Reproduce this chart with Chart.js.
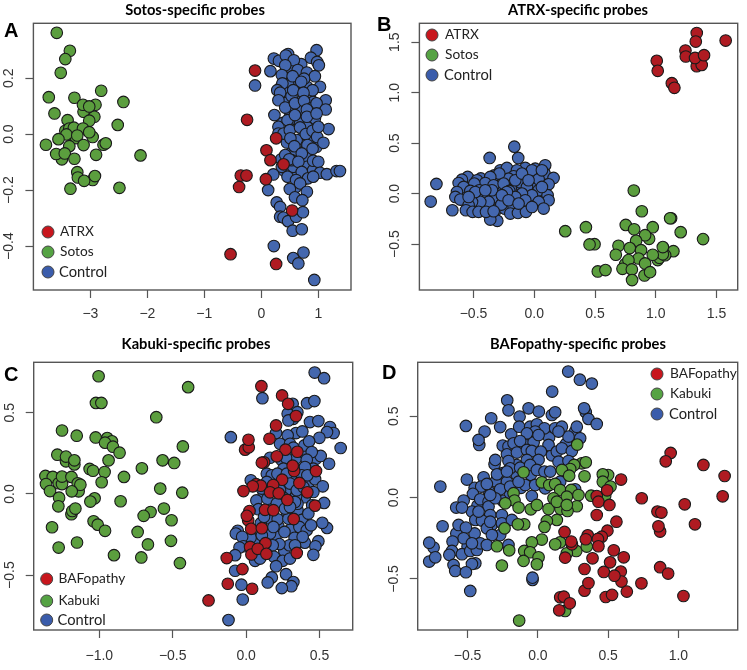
<!DOCTYPE html>
<html>
<head>
<meta charset="utf-8">
<title>Probe MDS plots</title>
<script src="https://cdn.jsdelivr.net/npm/chart.js@4"></script>
<style>
  html, body { margin: 0; padding: 0; background: #fff; }
  #page { position: relative; width: 747px; height: 670px; overflow: hidden; }
  canvas { position: absolute; }
  .letter { position: absolute; font: bold 20px "Liberation Sans", sans-serif; color: #000; line-height: 20px; }
  .title { position: absolute; font: bold 14.7px Lato, sans-serif; color: #000; line-height: 17px; transform: translateX(-50%); white-space: nowrap; }
</style>
</head>
<body>
<div id="page"></div>
<script>
// panel A: Sotos-specific probes, [x, y]
const aAtrx = [[-.11,.227],[-.25,.051],[.26,-.015],[.09,-.058],[.16,-.093],[.39,-.108],[-.36,-.148],[-.26,-.148],[-.39,-.189],[.08,-.161],[.54,-.273],[-.54,-.429],[.26,-.464]];
const aSotos = [[-3.59,.362],[-3.36,.298],[-3.44,.268],[-3.52,.219],[-3.73,.132],[-2.81,.155],[-3.28,.13],[-2.42,.115],[-3.63,.074],[-3.12,.08],[-3.13,.105],[-2.91,.105],[-2.93,.062],[-3.02,.099],[-3.02,.048],[-3.4,.05],[-2.52,.033],[-3.44,.012],[-3.37,.02],[-3.29,.023],[-3.13,.02],[-2.96,-.01],[-3.02,.007],[-3.25,-.014],[-3.42,-.001],[-3.23,-.005],[-3.56,-.018],[-3.78,-.038],[-3.37,-.043],[-3.12,-.039],[-2.77,-.038],[-2.73,-.033],[-3.5,-.09],[-3.6,-.071],[-3.45,-.069],[-3.28,-.088],[-2.9,-.074],[-2.12,-.076],[-3.23,-.136],[-3.22,-.155],[-2.96,-.164],[-2.92,-.15],[-3.11,-.167],[-3.35,-.195],[-2.49,-.192]];
const aControl = [[.35,.17],[.5,.2],[.62,.17],[.62,.09],[.4,.12],[.72,.12],[.85,.14],[.85,.04],[.72,.05],[.6,.03],[.5,.05],[.38,.04],[.55,-.06],[.68,-.03],[.8,-.05],[.68,-.1],[.8,-.08],[.62,-.12],[.55,-.14],[.75,-.16],[.9,-.02],[.95,.03],[.45,-.03],[.35,-.09],[.4,-.13],[.6,.25],[.7,.25],[.5,.24],[1,.09],[.6,-.19],[.47,.181],[.68,.217],[.44,.133],[.91,.115],[.68,.086],[.94,.056],[.3,.026],[.74,-.01],[.62,-.021],[.97,-.045],[.56,-.117],[.8,-.117],[.91,-.129],[.53,-.093],[.68,.038],[.8,.026],[.5,.08],[.8,.169],[.46,.27],[.39,.151],[.97,.3],[.22,.27],[.31,.262],[.47,.286],[.43,.281],[.57,.264],[.42,.246],[.87,.273],[.98,.258],[1.01,.246],[.16,.225],[.64,.229],[.36,.211],[.55,.207],[.8,.22],[.94,.207],[.75,.198],[.7,.187],[-.11,.174],[1.03,.169],[.37,.181],[.9,.157],[.28,.157],[.33,.148],[.53,.136],[.56,.157],[.74,.148],[.3,.121],[1.13,.121],[.42,.095],[.59,.11],[.75,.118],[.87,.092],[.97,.11],[1.13,.088],[.8,.088],[.23,.068],[.46,.05],[.59,.068],[.8,.062],[.97,.074],[.3,.002],[.39,.002],[.5,.014],[.68,.024],[.78,0],[.9,.012],[.98,-.01],[1.18,.018],[1,.026],[.51,-.015],[.58,-.043],[.81,-.039],[.9,-.052],[1.09,-.031],[.71,-.069],[.42,-.075],[.49,-.09],[.65,-.099],[.91,-.095],[1,-.099],[.36,-.117],[.21,-.144],[.46,-.152],[.71,-.135],[.61,-.164],[.82,-.158],[1.03,-.138],[1.15,-.143],[1.32,-.132],[1.38,-.132],[.68,-.176],[.91,-.152],[.12,-.2],[.5,-.196],[.8,-.206],[.59,-.226],[.72,-.236],[.27,-.244],[.33,-.26],[.33,-.295],[.39,-.298],[.47,-.311],[.61,-.295],[.73,-.279],[.55,-.345],[.71,-.34],[.22,-.4],[.74,-.423],[.56,-.443],[.65,-.462],[.93,-.521]];

// panel B: ATRX-specific probes
const bAtrx = [[1.337,1.591],[1.329,1.506],[1.575,1.516],[1.244,1.417],[1.247,1.358],[1.337,1.262],[1.378,1.275],[1.323,1.344],[1.397,1.371],[1.008,1.315],[1.016,1.216],[1.132,1.094],[1.153,1.048]];
const bSotos = [[.819,.03],[.885,-.175],[1.126,-.244],[1.118,-.244],[.255,-.372],[.425,-.333],[.496,-.501],[.455,-.504],[.753,-.31],[.822,-.353],[.975,-.333],[1.205,-.382],[1.389,-.451],[.945,-.448],[.912,-.412],[.838,-.468],[.693,-.517],[.786,-.54],[.879,-.56],[1.145,-.57],[1.016,-.659],[1.03,-.636],[1.077,-.61],[1.058,-.6],[1.058,-.53],[.975,-.606],[.671,-.606],[.858,-.643],[.748,-.699],[.775,-.659],[.912,-.692],[.726,-.745],[.803,-.751],[.907,-.811],[.953,-.778],[.805,-.857],[.523,-.771],[.586,-.758]];
const bControl = [[-.5,.05],[-.45,-.02],[-.42,.08],[-.38,-.04],[-.35,.13],[-.3,.03],[-.28,-.07],[-.25,.17],[-.22,-.1],[-.2,.08],[-.17,.05],[-.16,.2],[-.13,-.05],[-.1,.06],[-.08,.16],[-.05,-.03],[-.03,.1],[-.02,.18],[0,.06],[.03,-.04],[.05,.17],[.07,0],[-.6,-.02],[-.55,-.1],[-.48,-.13],[-.42,-.13],[-.36,-.13],[-.3,-.15],[-.24,-.15],[-.15,-.16],[-.08,-.14],[-.02,-.08],[.08,-.08],[-.58,.1],[-.52,.13],[-.44,.15],[-.33,.18],[-.25,.22],[-.12,.18],[-.05,.22],[-.164,.465],[-.132,.353],[-.367,.353],[-.805,.096],[-.852,-.079],[-.674,-.165],[-.304,-.27],[-.362,-.257],[-.279,.231],[-.225,.254],[-.074,.254],[.008,.247],[.09,.28],[.085,.198],[-.142,.231],[-.019,.231],[.159,.155],[.036,.142],[-.115,.112],[-.17,.171],[-.211,.148],[-.288,.198],[-.362,.165],[-.548,.165],[-.595,.138],[-.471,.132],[-.622,.105],[-.403,.105],[-.334,.082],[-.493,.099],[.118,.092],[-.06,.066],[-.252,.099],[-.581,.066],[-.526,.026],[-.452,.033],[-.205,.026],[.036,.033],[.11,-.016],[-.636,.016],[-.649,-.033],[-.608,-.059],[-.512,-.033],[-.315,-.033],[-.403,-.033],[-.019,-.016],[-.101,0],[-.156,-.033],[.118,-.066],[.036,-.082],[-.375,-.082],[-.444,-.082],[-.512,-.082],[-.54,-.115],[-.271,-.109],[-.17,-.125],[-.107,-.115],[.077,-.148],[-.562,-.165],[-.507,-.181],[-.458,-.181],[-.397,-.181],[-.334,-.175],[-.197,-.198],[-.134,-.191],[-.068,-.181],[-.225,.016],[-.348,.033],[-.485,.016],[-.074,-.066],[-.019,-.132],[-.266,-.016],[-.156,.132],[.063,.231],[-.101,.198],[-.403,.033],[-.211,-.066],[-.047,.132],[-.54,-.033],[-.129,-.099],[.063,.066]];

// panel C: Kabuki-specific probes
const cBafopathy = [[.104,.664],[.245,.607],[.286,.555],[.34,.48],[.204,.422],[.159,.34],[-.007,.273],[.018,.287],[.016,.334],[.268,.273],[.349,.26],[.209,.232],[.122,.195],[.107,.193],[.327,.141],[.317,.174],[.476,.141],[.245,.088],[.363,.068],[.068,.06],[.1,.051],[.045,.047],[.184,.055],[-.018,.018],[.163,.01],[.222,.004],[.417,.01],[.281,-.037],[.469,-.072],[.023,-.105],[.014,-.162],[.005,-.135],[.129,-.098],[.186,-.1],[.324,-.154],[.034,-.215],[.107,-.211],[.132,-.303],[.027,-.326],[.036,-.373],[.079,-.338],[.138,-.369],[.345,-.363],[-.132,-.395],[-.025,-.463],[-.125,-.553],[.041,-.584],[-.256,-.656]];
const cKabuki = [[-1.005,.725],[-1.023,.561],[-.986,.561],[-.612,.473],[-.395,.658],[-.431,.293],[-1.254,.391],[-1.154,.359],[-1.025,.348],[-.946,.344],[-.914,.324],[-.961,.316],[-.907,.291],[-.862,.254],[-1.286,.242],[-1.227,.201],[-1.227,.23],[-1.17,.182],[-1.17,.207],[-.937,.207],[-.569,.207],[-.49,.191],[-.71,.158],[-1.066,.154],[-1.043,.143],[-.964,.135],[-.832,.105],[-1.367,.111],[-1.317,.105],[-1.277,.066],[-1.254,.061],[-1.254,.107],[-1.19,.105],[-1.363,.061],[-1.141,.016],[-1.147,.066],[-1.129,.057],[-.984,.072],[-1.336,.018],[-1.188,.016],[-.585,.033],[-.435,.008],[-1.274,-.023],[-1.032,-.027],[-1.061,-.047],[-.855,-.045],[-1.279,-.076],[-1.19,-.125],[-1.184,-.105],[-1.163,-.09],[-.56,-.09],[-.651,-.111],[-.698,-.135],[-.508,-.162],[-1.039,-.168],[-1.011,-.189],[-.961,-.227],[-1.322,-.205],[-.739,-.234],[-.512,-.289],[-.669,-.311],[-1.152,-.299],[-1.277,-.33],[-.9,-.377],[-.714,-.391],[-.451,-.426]];
const cControl = [[.2,.02],[.27,.02],[.3,.17],[.24,.21],[.34,.22],[.4,.25],[.35,.15],[.42,.05],[.33,.1],[.25,.07],[.18,.08],[.47,.09],[.4,-.02],[.45,-.07],[.25,-.02],[.18,-.08],[.28,-.12],[.35,-.1],[.38,-.16],[.3,-.22],[.22,-.2],[.15,-.15],[.1,-.18],[.06,-.28],[.13,-.3],[.2,-.26],[.33,-.27],[.4,-.3],[.26,-.35],[.13,-.35],[.08,-.38],[.03,-.27],[.35,-.06],[.12,0],[.07,-.04],[.467,.748],[.531,.713],[.111,.59],[.415,.559],[.465,.572],[.317,.555],[.349,.504],[.283,.494],[.322,.463],[.288,.453],[.435,.443],[.492,.449],[.571,.412],[.596,.375],[.551,.381],[.499,.346],[.34,.375],[.383,.385],[.283,.361],[.204,.375],[-.104,.35],[.644,.283],[.231,.309],[.299,.309],[.397,.299],[.429,.324],[.322,.285],[.476,.217],[.508,.234],[.565,.186],[.447,.258],[.413,.211],[.272,.223],[.163,.223],[.458,.156],[.401,.166],[.254,.156],[.141,.125],[.175,.115],[.213,.125],[.277,.125],[.379,.115],[.417,.115],[.032,.084],[.107,.033],[.299,.064],[.522,.047],[.458,.012],[.145,-.029],[.34,-.014],[.231,.023],[.333,-.049],[.531,-.055],[.084,-.094],[.424,-.121],[.215,-.156],[.122,-.141],[.288,-.152],[.551,-.209],[.519,-.178],[.363,-.203],[.413,-.223],[.442,-.193],[-.057,-.227],[-.07,-.244],[-.027,-.264],[.163,-.244],[.261,-.234],[.385,-.264],[.492,-.291],[.472,-.322],[.458,-.375],[.295,-.316],[.227,-.309],[.181,-.316],[-.018,-.322],[-.045,-.33],[-.075,-.377],[.061,-.412],[.095,-.398],[.19,-.387],[.249,-.412],[.299,-.398],[.333,-.316],[.204,-.445],[-.075,-.473],[.272,-.494],[.175,-.514],[.147,-.545],[-.032,-.559],[.322,-.543],[.308,-.568],[.243,-.58],[-.023,-.65],[-.12,-.777],[.345,.023],[.39,.043],[.209,-.059],[.265,-.09],[.141,.074],[.299,-.08],[.186,-.203],[.107,-.254]];

// panel D: BAFopathy-specific probes
const dBafopathy = [[.945,.275],[.91,.223],[1.178,.201],[1.329,.133],[.592,.111],[.419,.01],[.493,.045],[.431,-.025],[.509,-.045],[.739,-.004],[1.315,.008],[1.045,-.041],[.851,-.086],[.879,-.092],[.419,-.107],[.559,-.148],[.87,-.209],[.858,-.176],[1.118,-.164],[.495,-.203],[.19,-.211],[.355,-.232],[.455,-.24],[.427,-.254],[.341,-.256],[.242,-.287],[.237,-.27],[.431,-.299],[.54,-.324],[.611,-.367],[.389,-.373],[.194,-.369],[.514,-.398],[.332,-.439],[.87,-.428],[.927,-.467],[.59,-.455],[.469,-.457],[.595,-.516],[.545,-.48],[.737,-.527],[.332,-.572],[.36,-.525],[.633,-.578],[.483,-.611],[.528,-.598],[1.036,-.605],[.159,-.613],[.185,-.609],[.227,-.65],[.152,-.693]];
const dKabuki = [[.28,.326],[.313,.211],[.341,.217],[.258,.201],[.23,.176],[.171,.17],[.223,.135],[.332,.131],[.5,.139],[.462,.143],[.462,.098],[.517,.068],[-.102,.156],[.028,.094],[-.173,.027],[-.166,-.018],[-.232,-.035],[-.137,-.061],[-.05,-.072],[-.007,-.045],[.081,.078],[.123,.084],[.159,.047],[.237,.047],[.111,-.004],[.206,.006],[.289,.016],[.379,.012],[.479,.012],[.277,-.053],[.161,-.07],[.076,-.07],[.211,-.082],[.135,-.137],[.064,-.143],[.047,-.18],[-.237,-.189],[-.097,-.164],[-.142,-.164],[.028,-.258],[-.043,-.275],[.159,-.275],[.123,-.287],[-.291,-.299],[-.204,-.324],[-.097,-.328],[-.055,-.336],[.005,-.367],[-.007,-.41],[-.102,-.389],[-.256,-.418],[.273,-.328],[.206,-.342],[.348,-.301],[.194,-.697],[-.133,-.756],[.135,-.025],[.206,-.045]];
const dControl = [[-.35,.04],[-.3,.1],[-.25,.15],[-.15,.14],[-.15,.2],[-.05,.14],[-.1,.33],[-.03,.34],[.08,.37],[.1,.26],[.2,.33],[-.25,-.02],[-.2,.03],[-.43,-.05],[-.45,.06],[-.33,-.17],[-.45,-.22],[-.5,-.3],[-.58,-.22],[-.25,.32],[-.12,.06],[.216,.775],[.299,.725],[.384,.701],[.102,.652],[-.218,.598],[.341,.525],[.329,.549],[.36,.484],[.419,.453],[-.209,.537],[-.13,.498],[-.066,.549],[.007,.529],[.1,.508],[.123,.525],[-.332,.488],[-.512,.441],[-.268,.434],[-.379,.406],[-.417,.324],[-.422,.355],[-.19,.389],[-.133,.436],[-.055,.436],[-.007,.451],[.047,.426],[.123,.426],[.171,.436],[.265,.406],[.277,.436],[.301,.365],[-.019,.406],[-.078,.395],[.005,.385],[.218,.375],[.147,.406],[-.209,.314],[-.173,.334],[-.126,.348],[.076,.324],[-.22,.266],[-.149,.277],[-.078,.293],[-.043,.287],[.021,.283],[.135,.283],[.171,.303],[.242,.287],[-.308,.205],[-.303,.232],[-.209,.225],[-.078,.232],[.005,.232],[.147,.221],[.218,.225],[-.197,.18],[-.126,.184],[-.055,.201],[-.007,.17],[.047,.16],[-.386,.125],[-.505,.111],[-.291,.143],[-.22,.098],[-.09,.078],[-.019,.078],[.159,.098],[-.694,.068],[-.403,.068],[-.363,.084],[-.268,.051],[-.197,.068],[-.043,.01],[.265,.051],[-.462,.023],[-.528,-.018],[-.41,-.01],[-.351,-.025],[-.469,-.086],[-.581,-.061],[-.54,-.061],[-.351,-.055],[-.339,-.107],[-.256,-.107],[-.445,-.137],[-.398,-.141],[-.564,-.168],[-.512,-.184],[-.678,-.176],[-.363,-.189],[-.256,-.158],[-.268,-.23],[-.327,-.23],[-.528,-.25],[-.742,-.307],[-.773,-.277],[-.607,-.27],[-.611,-.328],[-.63,-.352],[-.54,-.348],[-.481,-.328],[-.434,-.322],[-.41,-.281],[-.469,-.281],[-.363,-.291],[-.209,-.291],[-.773,-.393],[-.73,-.367],[-.6,-.414],[-.445,-.404],[-.469,-.408],[-.588,-.451],[-.512,-.459],[-.038,-.506],[-.038,-.492],[-.481,-.574],[-.339,-.148],[-.422,-.086],[-.185,-.137],[.147,-.035],[-.303,-.004],[-.339,.016],[-.137,.098],[.052,.057],[.088,.16],[-.22,.16]];

// tick values
const aTicksX = [-3, -2, -1, 0, 1];
const aTicksY = [-0.4, -0.2, 0, 0.2];
const bTicksX = [-0.5, 0, 0.5, 1, 1.5];
const bTicksY = [-0.5, 0, 0.5, 1, 1.5];
const cTicksX = [-1, -0.5, 0, 0.5];
const cTicksY = [-0.5, 0, 0.5];
const dTicksX = [-0.5, 0, 0.5, 1];
const dTicksY = [-0.5, 0, 0.5];

const RED = '#AF1B22', GREEN = '#5B9E3E', BLUE = '#4467AE';
const LEG_RED = '#C8161D', LEG_GREEN = '#55A343', LEG_BLUE = '#3A5CAB';

const panels = [
  { letter: 'A', lx: 4, ly: 20, left: 0, top: 0, areaL: 33.4, areaR: 351, areaT: 23.3, areaB: 290, title: 'Sotos-specific probes', titleX: 195, titleY: 0.5,
    xr: [-4.0, 1.574], yr: [-0.557, 0.396], tx: aTicksX, ty: aTicksY, xDec: 0, yDec: 1, labelPad: 8,
    names: ['ATRX', 'Sotos', 'Control'], sets: [aAtrx, aSotos, aControl], legX: 48, legT: 60, legY: [232, 252, 272] },
  { letter: 'B', lx: 377, ly: 14, left: 375, top: 0, areaL: 44.4, areaR: 362.7, areaT: 23.3, areaB: 290, title: 'ATRX-specific probes', titleX: 578, titleY: 0.5,
    xr: [-0.945, 1.674], yr: [-0.955, 1.687], tx: bTicksX, ty: bTicksY, xDec: 1, yDec: 1, labelPad: 8,
    names: ['ATRX', 'Sotos', 'Control'], sets: [bAtrx, bSotos, bControl], legX: 57, legT: 70, legY: [35, 55, 75] },
  { letter: 'C', lx: 4, ly: 364, left: 0, top: 335, areaL: 33.7, areaR: 352.7, areaT: 27.3, areaB: 295, title: 'Kabuki-specific probes', titleX: 196, titleY: 335,
    xr: [-1.447, 0.726], yr: [-0.838, 0.811], tx: cTicksX, ty: cTicksY, xDec: 1, yDec: 1, labelPad: 9.5,
    names: ['BAFopathy', 'Kabuki', 'Control'], sets: [cBafopathy, cKabuki, cControl], legX: 46.7, legT: 58.5, legY: [244, 266, 285] },
  { letter: 'D', lx: 382, ly: 362, left: 375, top: 335, areaL: 42.7, areaR: 362.7, areaT: 27.3, areaB: 295, title: 'BAFopathy-specific probes', titleX: 578, titleY: 335,
    xr: [-0.855, 1.422], yr: [-0.814, 0.832], tx: dTicksX, ty: dTicksY, xDec: 1, yDec: 1, labelPad: 9.5,
    names: ['BAFopathy', 'Kabuki', 'Control'], sets: [dBafopathy, dKabuki, dControl], legX: 282, legT: 295, legY: [39, 59, 79] }
];

// box round the plot plus the in-plot legend
const boxAndLegend = {
  id: 'boxAndLegend',
  afterDatasetsDraw(chart, args, opts) {
    const { ctx, chartArea: a } = chart;
    ctx.save();
    ctx.strokeStyle = '#555';
    ctx.lineWidth = 1.4;
    ctx.strokeRect(a.left, a.top, a.right - a.left, a.bottom - a.top);
    chart.data.datasets.forEach((ds, i) => {
      ctx.beginPath();
      ctx.arc(opts.x, opts.ys[i], 6, 0, Math.PI * 2);
      ctx.fillStyle = opts.colors[i];
      ctx.fill();
      ctx.strokeStyle = '#444';
      ctx.lineWidth = 1;
      ctx.stroke();
      ctx.fillStyle = '#222';
      // the Control label is visibly larger in the original
      const isControl = ds.label === 'Control';
      ctx.font = (isControl ? '14.7px' : '13.7px') + ' Lato';
      ctx.textBaseline = 'middle';
      ctx.textAlign = 'left';
      ctx.fillText(ds.label, isControl ? opts.textX - 1 : opts.textX, opts.ys[i]);
    });
    ctx.restore();
  }
};

function fmt(v, dec) {
  return (v < 0 ? '\u2212' : '') + Math.abs(v).toFixed(dec);
}

const page = document.getElementById('page');
const colors = [RED, GREEN, BLUE];

panels.forEach(p => {
  const w = 372, h = 335;
  const canvas = document.createElement('canvas');
  canvas.width = w;
  canvas.height = h;
  canvas.style.left = p.left + 'px';
  canvas.style.top = p.top + 'px';
  canvas.style.width = w + 'px';
  canvas.style.height = h + 'px';
  page.appendChild(canvas);

  const letter = document.createElement('div');
  letter.className = 'letter';
  letter.textContent = p.letter;
  letter.style.left = p.lx + 'px';
  letter.style.top = p.ly + 'px';
  page.appendChild(letter);

  const title = document.createElement('div');
  title.className = 'title';
  title.textContent = p.title;
  title.style.left = p.titleX + 'px';
  title.style.top = p.titleY + 'px';
  page.appendChild(title);

  const xHeight = 40;
  const tickFont = { family: '"Liberation Sans"', size: 14 };

  new Chart(canvas.getContext('2d'), {
    type: 'scatter',
    plugins: [boxAndLegend],
    data: {
      datasets: p.sets.map((s, i) => ({
        label: p.names[i],
        data: s.map(d => ({ x: d[0], y: d[1] })),
        backgroundColor: colors[i],
        borderColor: '#1a1a1a',
        borderWidth: 1.1,
        pointRadius: 5.8
      }))
    },
    options: {
      responsive: false,
      animation: false,
      devicePixelRatio: 1,
      events: [],
      layout: { padding: { left: 0, top: p.areaT, right: w - p.areaR, bottom: h - p.areaB - xHeight } },
      plugins: {
        legend: { display: false },
        tooltip: { enabled: false },
        title: { display: false },
        boxAndLegend: { x: p.legX, textX: p.legT, ys: p.legY, colors: [LEG_RED, LEG_GREEN, LEG_BLUE] }
      },
      scales: {
        x: {
          type: 'linear',
          min: p.xr[0],
          max: p.xr[1],
          afterBuildTicks: s => { s.ticks = p.tx.map(v => ({ value: v })); },
          afterFit: s => { s.height = xHeight; },
          border: { display: false },
          grid: { drawOnChartArea: false, tickLength: 8, color: '#555', tickWidth: 1.2 },
          ticks: {
            autoSkip: false, minRotation: 0, maxRotation: 0, color: '#333', font: tickFont, padding: p.labelPad,
            callback: v => fmt(v, p.xDec)
          }
        },
        y: {
          type: 'linear',
          min: p.yr[0],
          max: p.yr[1],
          afterBuildTicks: s => { s.ticks = p.ty.map(v => ({ value: v })); },
          afterFit: s => { s.width = p.areaL; },
          border: { display: false },
          grid: { drawOnChartArea: false, tickLength: 8, color: '#555', tickWidth: 1.2 },
          ticks: {
            autoSkip: false, minRotation: 90, maxRotation: 90, crossAlign: 'center', color: '#333', font: tickFont, padding: 2,
            callback: v => fmt(v, p.yDec)
          }
        }
      }
    }
  });
});
</script>
</body>
</html>
